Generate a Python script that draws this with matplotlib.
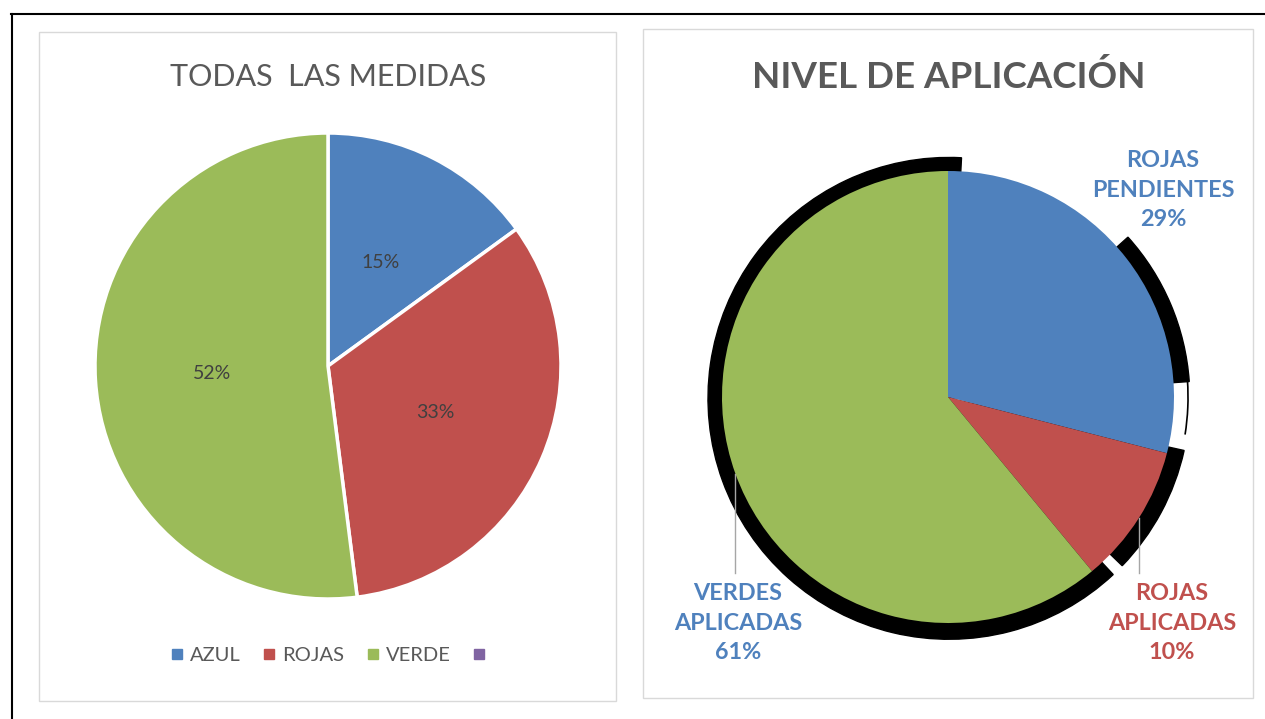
import numpy as np
import matplotlib

matplotlib.use("Agg")
import matplotlib.pyplot as plt
from matplotlib.lines import Line2D
from matplotlib.patches import Rectangle, Wedge, Arc

plt.rcParams['font.family'] = ['Lato', 'DejaVu Sans']

W, H = 1265, 719

# left chart: todas las medidas
left_title = "TODAS  LAS MEDIDAS"
left_labels = ["AZUL", "ROJAS", "VERDE"]
left_values = [15, 33, 52]
legend_labels = ["AZUL", "ROJAS", "VERDE", ""]
legend_colors = ["#4F81BD", "#C0504D", "#9BBB59", "#8064A2"]

# right chart: nivel de aplicacion
right_title = "NIVEL DE APLICACIÓN"
right_labels = ["ROJAS\nPENDIENTES", "ROJAS\nAPLICADAS", "VERDES\nAPLICADAS"]
right_values = [29, 10, 61]
right_colors = ["#4F81BD", "#C0504D", "#9BBB59"]
right_label_colors = ["#4F81BD", "#C0504D", "#4F81BD"]


def fx(x):
    return x / W


def fy(y):
    return 1 - y / H


fig = plt.figure(figsize=(W / 100, H / 100), dpi=100)

# outer frame (top + left) and the two chart boxes
fig.add_artist(Line2D([fx(11.5), fx(11.5)], [0, fy(14)], color="black", lw=1.5))
fig.add_artist(Line2D([fx(11), 1], [fy(14), fy(14)], color="black", lw=1.5))
for x0, y0, x1, y1 in [(39, 32, 616, 701), (643, 29, 1253, 698)]:
    fig.add_artist(Rectangle((fx(x0), fy(y1)), (x1 - x0) / W, (y1 - y0) / H,
                             transform=fig.transFigure, fill=False,
                             ec="#D9D9D9", lw=1))

# ---- left pie
R1 = 233
axL = fig.add_axes([fx(328 - R1), fy(366 + R1), 2 * R1 / W, 2 * R1 / H])
axL.pie(left_values, colors=legend_colors[:3], startangle=90, counterclock=False,
        autopct="%1.0f%%", pctdistance=0.5,
        wedgeprops=dict(edgecolor="white", linewidth=2.5),
        textprops=dict(color="#404040", fontsize=14))
axL.set_xlim(-1, 1)
axL.set_ylim(-1, 1)
fig.text(fx(328), fy(77), left_title, ha="center", va="center",
         fontsize=22, color="#595959")

handles = [Line2D([], [], marker="s", ls="", color=c, markersize=6.5)
           for c in legend_colors]
fig.legend(handles, legend_labels, loc="center", bbox_to_anchor=(fx(331), fy(655)),
           ncol=4, frameon=False, handlelength=0.7, handletextpad=0.3,
           columnspacing=1.05, fontsize=14.5, labelcolor="#595959")

# ---- right pie with the odd black shadow
R2 = 226
S = 1.1
axR = fig.add_axes([fx(948 - R2 * S), fy(397 + R2 * S), 2 * R2 * S / W, 2 * R2 * S / H])
wedges, _ = axR.pie(right_values, colors=right_colors, startangle=90,
                    counterclock=False, wedgeprops=dict(linewidth=0))
for w in wedges:
    w.set_zorder(2)
for t1, t2 in [(87, 313), (316, 347.5), (4, 42)]:
    axR.add_patch(Wedge((0.004, -0.006), 1.066, t1, t2, color="black", zorder=1))
axR.add_patch(Arc((0, 0), 2 * 1.062, 2 * 1.062, theta1=-9, theta2=4,
                  color="black", lw=1.2, zorder=1))
axR.set_xlim(-S, S)
axR.set_ylim(-S, S)

label_pos = [(0.951, 0.915), (0.991, -1.0), (-0.929, -1.0)]
for w, lab, val, col, (lx, ly) in zip(wedges, right_labels, right_values,
                                      right_label_colors, label_pos):
    axR.text(lx, ly, f"{lab}\n{val}%", ha="center", va="center", fontsize=16.8,
             fontweight="bold", color=col, linespacing=1.5, zorder=3)
    if ly < 0:
        mid = np.deg2rad((w.theta1 + w.theta2) / 2)
        ex, ey = np.cos(mid), np.sin(mid)
        axR.plot([ex, ex], [ey, -0.78], color="#A6A6A6", lw=1, zorder=3)

fig.text(fx(949), fy(77), right_title, ha="center", va="center",
         fontsize=26.5, fontweight="bold", color="#595959")

fig.savefig("out.png", dpi=100)
